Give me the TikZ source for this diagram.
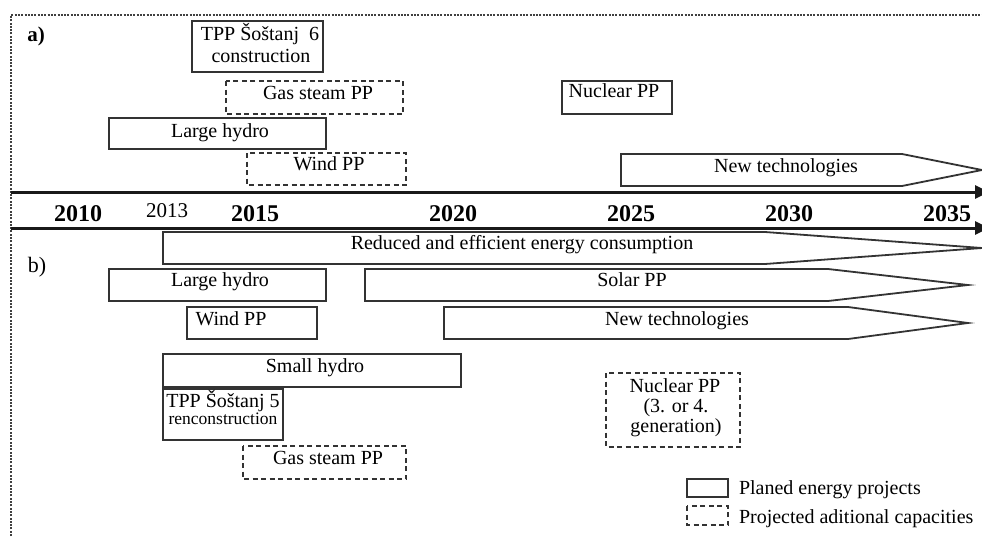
\documentclass[tikz,border=0pt]{standalone}
\usepackage{fontspec}
\setmainfont{Liberation Serif}
\usetikzlibrary{arrows.meta}
\begin{document}
\begin{tikzpicture}[x=1pt,y=-1pt,
  every node/.style={font=\fontsize{20}{22}\selectfont, inner sep=0pt, outer sep=0pt},
  txt/.style={anchor=base},
  ltxt/.style={anchor=base west},
  boxline/.style={draw=black!80, line width=1.8pt, line join=miter},
  solidrect/.style={boxline},
  dashrect/.style={boxline, dash pattern=on 5pt off 3.5pt},
  axisline/.style={line width=3pt, draw=black!90, -{Triangle[length=14pt,width=13pt]}},
  yearlbl/.style={font=\bfseries\fontsize{24}{26}\selectfont, anchor=base},
  framestyle/.style={draw=black!75, line width=2pt, dash pattern=on 2pt off 1.3pt}
]
\useasboundingbox (0,0) rectangle (982,536);

% frame
\draw[framestyle] (11,536) -- (11,15) -- (982,15);

% axes
\coordinate (ax1s) at (11,192);
\coordinate (ax1e) at (989,192);
\coordinate (ax2s) at (11,228);
\coordinate (ax2e) at (989,228);
\draw[axisline] (ax1s) -- (ax1e);
\draw[axisline] (ax2s) -- (ax2e);

% years
\node[yearlbl] (y2010) at (78,221) {2010};
\node[txt, font=\fontsize{21}{23}\selectfont] (y2013) at (167,217) {2013};
\node[yearlbl] (y2015) at (255,221) {2015};
\node[yearlbl] (y2020) at (453,221) {2020};
\node[yearlbl] (y2025) at (631,221) {2025};
\node[yearlbl] (y2030) at (789,221) {2030};
\node[yearlbl] (y2035) at (947,221) {2035};

% ---------- a) ----------
\node[txt, font=\bfseries\fontsize{21}{23}\selectfont] (la) at (36,41) {a)};

\draw[solidrect] (192,21) rectangle (323,72);
\node[txt] (tppa1) at (260,40) {TPP Šoštanj~~6};
\node[txt] (tppa2) at (261,62) {construction};

\draw[dashrect] (226,81) rectangle (403,114);
\node[txt] (gasa) at (318,99) {Gas steam PP};

\draw[solidrect] (109,118) rectangle (326,149);
\node[txt] (lhya) at (220,137) {Large hydro};

\draw[dashrect] (247,153) rectangle (406,185);
\node[txt] (winda) at (329,170) {Wind PP};

\draw[solidrect] (562,81) rectangle (672,114);
\node[txt] (nuca) at (614,97) {Nuclear PP};

\draw[boxline] (621,154) -- (902,154) -- (982,170) -- (902,186) -- (621,186) -- cycle;
\node[txt] (newa) at (786,172) {New technologies};

% ---------- b) ----------
\node[txt, font=\fontsize{22}{24}\selectfont] (lb) at (37,272) {b)};

\draw[boxline] (163,232) -- (765,232) -- (982,248) -- (765,264) -- (163,264) -- cycle;
\node[txt] (red) at (522,249) {Reduced and efficient energy consumption};

\draw[solidrect] (109,269) rectangle (326,301);
\node[txt] (lhyb) at (220,286) {Large hydro};

\draw[boxline] (365,269) -- (828,269) -- (968,285) -- (828,301) -- (365,301) -- cycle;
\node[txt] (solar) at (632,286) {Solar PP};

\draw[solidrect] (187,307) rectangle (317,339);
\node[txt] (windb) at (231,325) {Wind PP};

\draw[boxline] (444,307) -- (848,307) -- (968,323) -- (848,339) -- (444,339) -- cycle;
\node[txt] (newb) at (677,325) {New technologies};

\draw[solidrect] (163,354) rectangle (461,387);
\node[txt] (smallh) at (315,372) {Small hydro};

\draw[solidrect] (163,389) rectangle (283,440);
\node[txt] (tppb1) at (223,407) {TPP Šoštanj 5};
\node[txt, font=\fontsize{17.5}{19}\selectfont] (tppb2) at (223,424) {renconstruction};

\draw[dashrect] (243,446) rectangle (406,479);
\node[txt] (gasb) at (328,464) {Gas steam PP};

\draw[dashrect] (606,373) rectangle (740,447);
\node[txt] (nucb1) at (675,392) {Nuclear PP};
\node[txt] (nucb2) at (676,412) {(3. or 4.};
\node[txt] (nucb3) at (676,432) {generation)};

% legend
\draw[solidrect] (687,479) rectangle (728,497);
\node[ltxt] (leg1) at (739,494) {Planed energy projects};
\draw[dashrect] (687,506) rectangle (728,525);
\node[ltxt] (leg2) at (739,523) {Projected aditional capacities};
\end{tikzpicture}
\end{document}
